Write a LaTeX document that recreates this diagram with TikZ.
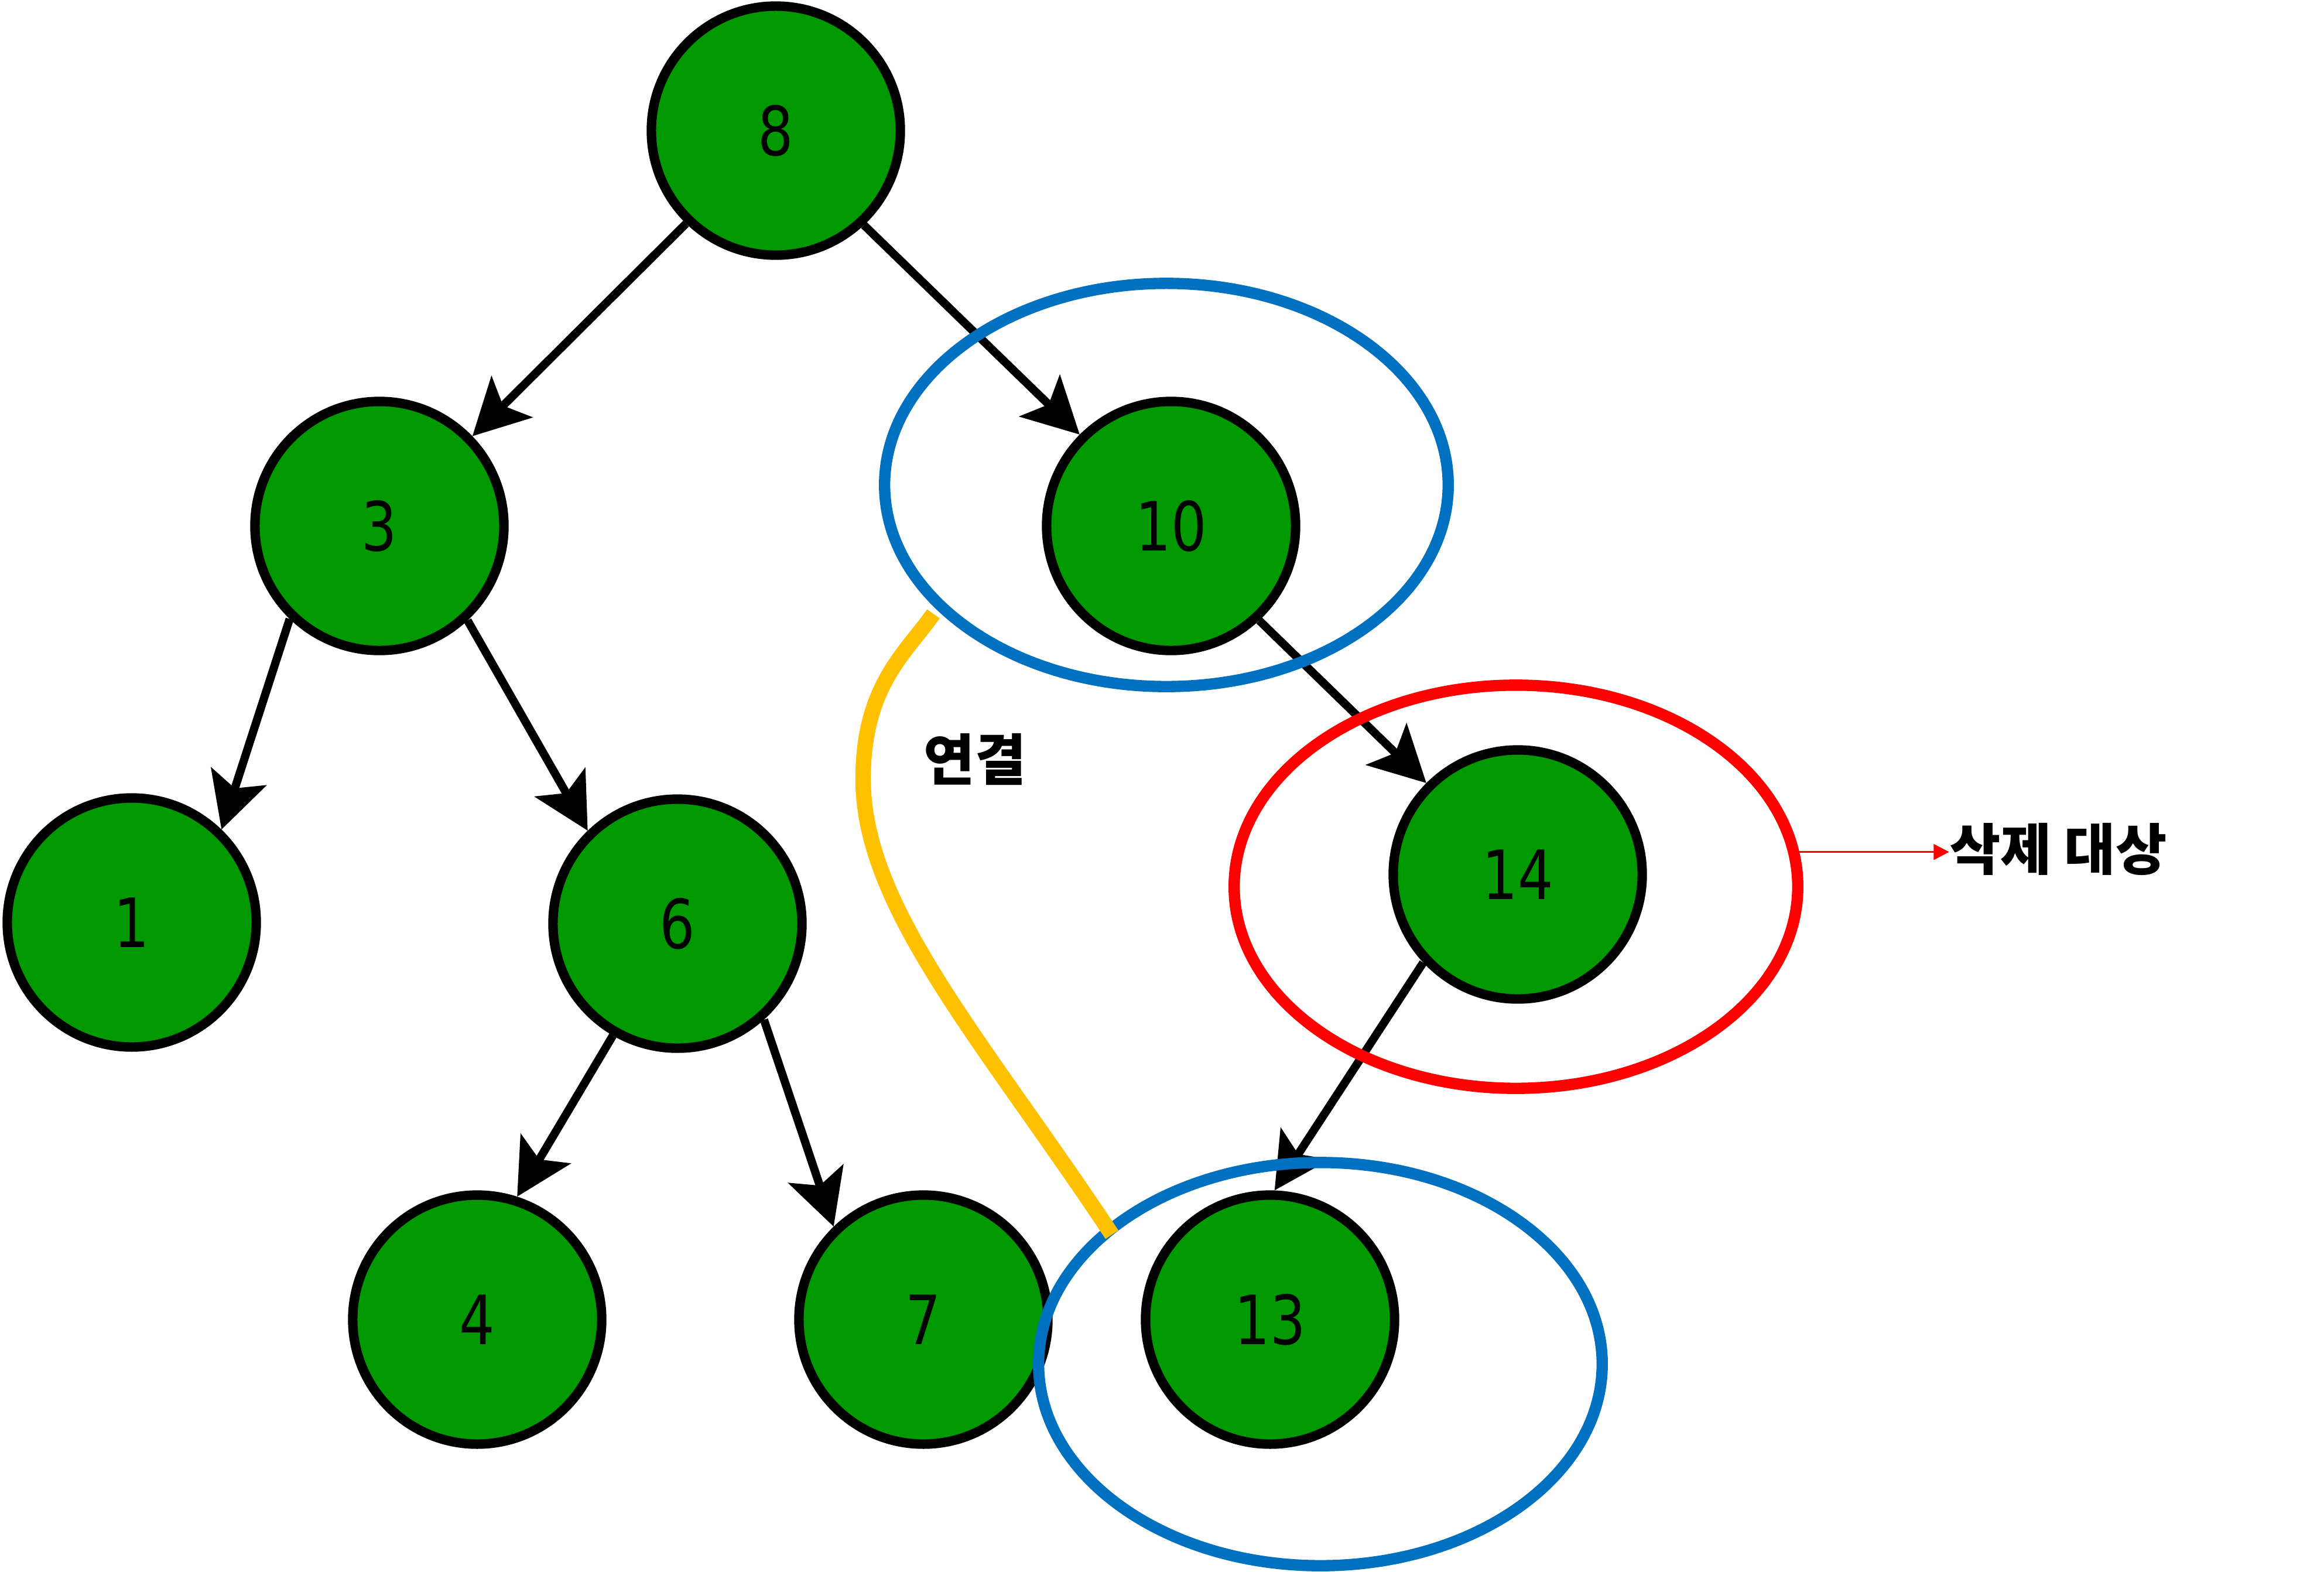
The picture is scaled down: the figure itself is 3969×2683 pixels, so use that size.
\documentclass[tikz,border=0pt]{standalone}
\usepackage{fontspec}
\usetikzlibrary{arrows.meta,shapes.geometric}
\newfontfamily\numfont{DejaVu Sans}
\newfontfamily\krfont{Noto Sans CJK KR}
\definecolor{nodegreen}{HTML}{009900}
\definecolor{grpblue}{HTML}{0070C0}
\definecolor{linkyellow}{HTML}{FFC000}
\definecolor{delred}{HTML}{FF0000}
\tikzset{
  treenode/.style={circle, draw=black, line width=4.6pt, fill=nodegreen,
    minimum size=4.25cm, inner sep=0pt,
    font=\numfont\fontsize{33}{33}\selectfont},
  treeedge/.style={draw=black, line width=4pt,
    -{Stealth[length=27pt, width=28pt, inset=6pt]}},
  ring/.style={ellipse, line width=5.5pt, minimum width=9.62cm, minimum height=6.88cm, inner sep=0pt},
  krlabel/.style={font=\krfont\bfseries\fontsize{27}{27}\selectfont, inner sep=0pt}
}
\newcommand{\num}[1]{\scalebox{0.82}[1]{#1}}
\begin{document}
\begin{tikzpicture}[x=0.01cm, y=-0.01cm]
\useasboundingbox[fill=white] (0,0) rectangle (3969,2683);

% tree nodes
\node[treenode] (n8)  at (1325, 223)  {\num{8}};
\node[treenode] (n3)  at (648, 898)   {\num{3}};
\node[treenode] (n10) at (2000, 898)  {\num{10}};
\node[treenode] (n1)  at (225, 1575)  {\num{1}};
\node[treenode] (n6)  at (1157, 1577) {\num{6}};
\node[treenode] (n14) at (2592, 1493) {\num{14}};
\node[treenode] (n4)  at (815, 2253)  {\num{4}};
\node[treenode] (n7)  at (1577, 2253) {\num{7}};
\node[treenode] (n13) at (2169, 2253) {\num{13}};

% parent -> child edges
\draw[treeedge] (n8.226)  -- (n3.44);
\draw[treeedge] (n8.313)  -- (n10.135);
\draw[treeedge] (n3.226)  -- (n1.46);
\draw[treeedge] (n3.313)  -- (n6.134);
\draw[treeedge] (n6.240)  -- (n4.72);
\draw[treeedge] (n6.312)  -- (n7.134);
\draw[treeedge] (n10.313) -- (n14.135);
\draw[treeedge] (n14.223) -- (n13.88);

% highlight rings
\node[ring, draw=grpblue] (keep1) at (1992, 828)  {};
\node[ring, draw=delred]  (del)   at (2589, 1514) {};
\node[ring, draw=grpblue] (keep2) at (2255, 2329) {};

% relink between the kept nodes (vertical tangent at the leftmost point)
\coordinate (linkA) at (1594, 1048);
\coordinate (linkB) at (1899, 2108);
\draw[linkyellow, line width=7.5pt]
  (linkA) .. controls (1548, 1114) and (1474, 1170) .. (1474, 1330)
          .. controls (1474, 1550) and (1678, 1775) .. (linkB);
\node[krlabel] (linktext) at (1665, 1296) {연결};

% deletion target label
\node[krlabel] (deltext) at (3515, 1450) {삭제 대상};
\draw[delred, line width=0.9pt, -{Triangle[length=7.5pt, width=7.6pt]}]
  (del.7.7) -- (del.7.7 -| deltext.west);
\end{tikzpicture}
\end{document}
